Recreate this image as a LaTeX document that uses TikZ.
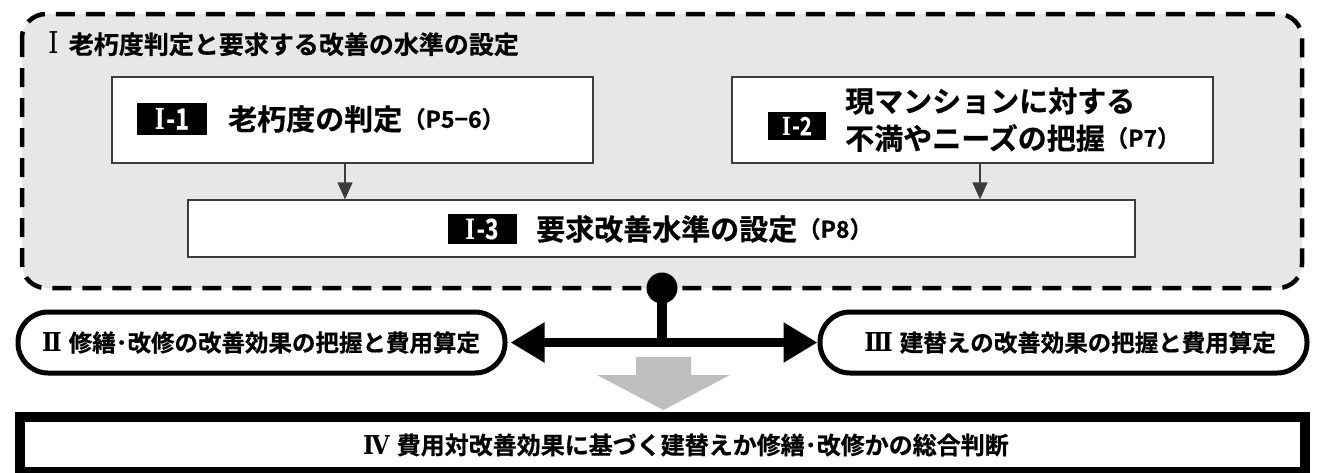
\documentclass[tikz,border=0pt]{standalone}
\usepackage{fontspec}
\usepackage{graphicx}
\setmainfont{Noto Sans CJK JP}[BoldFont={Noto Sans CJK JP Bold},BoldFeatures={FakeBold=0.6}]
\newfontfamily\romfont{DejaVu Serif Condensed}
\usetikzlibrary{arrows.meta}
\definecolor{panel}{RGB}{230,231,232}
\definecolor{grayarrow}{RGB}{188,190,192}
\definecolor{boxline}{RGB}{60,60,60}
\newcommand{\fsz}[1]{\fontsize{#1}{#1}\selectfont}
\newcommand{\rom}[2]{{\romfont\bfseries\fsz{#1}#2}}
\newcommand{\tagtext}[2]{\scalebox{0.82}[1]{\rom{#1}{Ⅰ}\,\fsz{#1}-#2}}
\begin{document}
\begin{tikzpicture}[x=1pt,y=-1pt,font=\bfseries,
  panelbox/.style={draw=black, line width=4.5pt, dash pattern=on 19pt off 11pt, fill=panel, rounded corners=24pt},
  stepbox/.style={draw=boxline, line width=1.3pt, fill=white, inner sep=0pt},
  tagbox/.style={fill=black, text=white, inner sep=0pt, font=\bfseries},
  roundbox/.style={draw=black, line width=5pt, fill=white, rounded corners=30pt, inner sep=0pt},
  thinarrow/.style={draw=boxline, line width=1.3pt, -{Triangle[width=15pt,length=17pt]}},
  bigtext/.style={font=\bfseries\fsz{29}, inner sep=0pt, anchor=west},
  ptext/.style={font=\bfseries\fsz{23}, inner sep=0pt, anchor=west},
  midtext/.style={font=\bfseries\fsz{23.5}, inner sep=0pt}
]
\useasboundingbox (0,0) rectangle (1320,472);
\fill[white] (0,0) rectangle (1320,472);

% outer dashed panel
\path[panelbox] (22,14) rectangle (1302,288);
\node[font=\bfseries\fsz{25}, inner sep=0pt, anchor=west] (title) at (48,44) {{\romfont\mdseries\fsz{30}Ⅰ}\hspace{10pt}老朽度判定と要求する改善の水準の設定};

% step boxes
\node[stepbox, minimum width=481pt, minimum height=86pt] (b1) at (352.5,120) {};
\node[stepbox, minimum width=481pt, minimum height=86pt] (b2) at (972.5,120) {};
\node[stepbox, minimum width=947pt, minimum height=57pt] (b3) at (661.5,228.5) {};

\node[tagbox, minimum width=70pt, minimum height=32pt] (t1) at (172,119) {\tagtext{29}{1}};
\node[bigtext] (x1) at (228,119) {老朽度の判定};
\node[ptext] (p1) at (x1.east) {（P5−6）};

\node[tagbox, minimum width=58pt, minimum height=28pt] (t2) at (797,126) {\tagtext{25}{2}};
\node[bigtext] (x2a) at (845,101) {現マンションに対する};
\node[bigtext] (x2b) at (845,138) {不満やニーズの把握};
\node[ptext] (p2) at (x2b.east) {（P7）};

\node[tagbox, minimum width=69pt, minimum height=30pt] (t3) at (482,229) {\tagtext{28}{3}};
\node[bigtext] (x3) at (536,229) {要求改善水準の設定};
\node[ptext] (p3) at (x3.east) {（P8）};

\coordinate (ax1) at (345,0);
\coordinate (ax2) at (980,0);
\draw[thinarrow] (b1.south -| ax1) -- (b3.north -| ax1);
\draw[thinarrow] (b2.south -| ax2) -- (b3.north -| ax2);

% branch
\node[roundbox, minimum width=487pt, minimum height=61pt] (lb) at (261.5,342.5) {};
\node[midtext] (lbt) at (261,342.5) {\rom{26}{Ⅱ}\hspace{7pt}修繕･改修の改善効果の把握と費用算定};
\node[roundbox, minimum width=487pt, minimum height=61pt] (rb) at (1063.5,342.5) {};
\node[midtext] (rbt) at (1070,342.5) {\rom{26}{Ⅲ}\hspace{7pt}建替えの改善効果の把握と費用算定};

\node[circle, fill=black, minimum size=31pt, inner sep=0pt] (dot) at (662,288) {};
\coordinate (junc) at (662,342);
\draw[line width=10pt] (dot.center) -- (junc);
\draw[line width=9pt, {Triangle[width=38pt,length=34pt]}-{Triangle[width=38pt,length=34pt]}, shorten <=3pt]
  (lb.east) -- (rb.west);

% gray arrow
\fill[grayarrow] (636,357) -- (691,357) -- (691,375) -- (730,375) -- (663.5,410) -- (597,375) -- (636,375) -- cycle;

% bottom box
\node[draw=black, line width=10pt, fill=white, minimum width=1285pt, minimum height=55pt, inner sep=0pt] (fb) at (662.5,444.5) {};
\node[midtext, anchor=west, font=\bfseries\fsz{24}] (fbt) at (363,445) {\rom{26}{Ⅳ}\hspace{7pt}費用対改善効果に基づく建替えか修繕･改修かの総合判断};
\end{tikzpicture}
\end{document}
